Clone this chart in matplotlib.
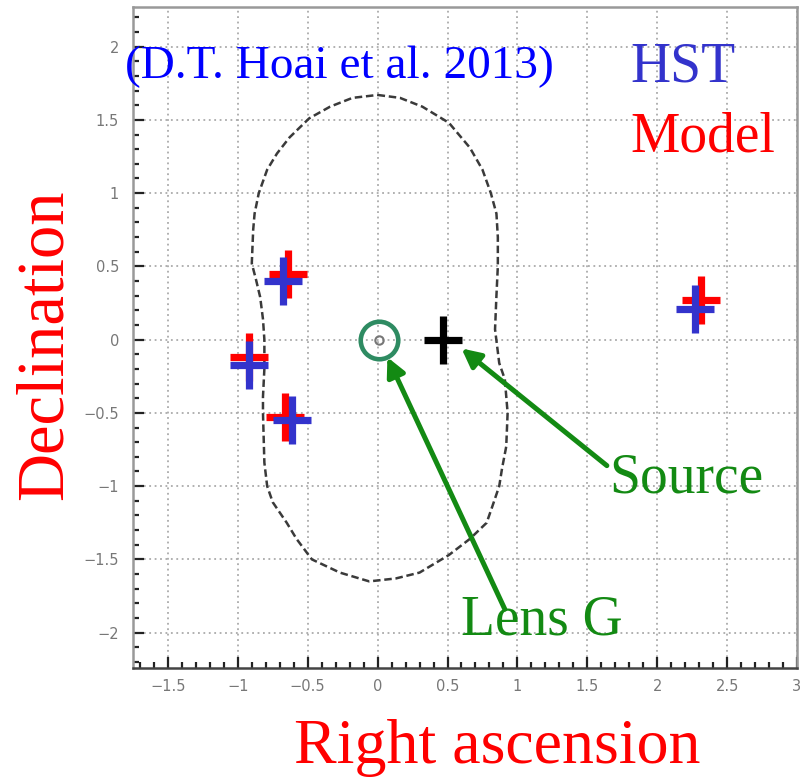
import numpy as np
import matplotlib
matplotlib.use("Agg")
import matplotlib.pyplot as plt
from matplotlib.ticker import MultipleLocator, FixedLocator

# critical curve (RA, Dec), clockwise from the top
crit_x = [0.0, 0.16, 0.32, 0.51, 0.66, 0.75, 0.81, 0.85, 0.86, 0.86, 0.85, 0.84,
          0.87, 0.91, 0.93, 0.92, 0.89, 0.87, 0.82, 0.78, 0.66, 0.51, 0.30, 0.13,
          -0.06, -0.27, -0.47, -0.58, -0.65, -0.75, -0.79, -0.81, -0.82, -0.82,
          -0.81, -0.81, -0.82, -0.84, -0.87, -0.90, -0.89, -0.88, -0.85, -0.79,
          -0.72, -0.63, -0.49, -0.34, -0.18, 0.0]
crit_y = [1.67, 1.65, 1.59, 1.48, 1.31, 1.16, 1.00, 0.86, 0.70, 0.50, 0.30, 0.07,
          -0.16, -0.27, -0.50, -0.73, -0.88, -1.00, -1.14, -1.25, -1.36, -1.47, -1.59, -1.63,
          -1.65, -1.59, -1.50, -1.36, -1.25, -1.11, -1.00, -0.84, -0.50, -0.39,
          -0.20, 0.00, 0.14, 0.29, 0.41, 0.52, 0.75, 0.86, 1.00, 1.16,
          1.27, 1.38, 1.51, 1.59, 1.65, 1.67]

# image positions
hst_x = [-0.68, -0.92, -0.61, 2.27]
hst_y = [0.40, -0.17, -0.55, 0.21]
model_x = [-0.64, -0.92, -0.66, 2.31]
model_y = [0.45, -0.12, -0.53, 0.27]
source_xy = (0.47, 0.0)
lens_xy = (0.01, 0.0)

x_ticks = [-1.5, -1, -0.5, 0, 0.5, 1, 1.5, 2, 2.5, 3]
x_labels = ["\u22121.5", "\u22121", "\u22120.5", "0", "0.5", "1", "1.5", "2", "2.5", "3"]
y_ticks = [-2, -1.5, -1, -0.5, 0, 0.5, 1, 1.5, 2]
y_labels = ["\u22122", "\u22121.5", "\u22121", "\u22120.5", "0", "0.5", "1", "1.5", "2"]

red = "#ff0000"
blue = "#3333cc"
green = "#138a13"
serif = ["Liberation Serif", "DejaVu Serif"]

fig = plt.figure(figsize=(8.01, 7.82), dpi=100)
ax = fig.add_axes([0.166, 0.146, 0.829, 0.845])
ax.set_xlim(-1.75, 3.0)
ax.set_ylim(-2.24, 2.27)

ax.xaxis.set_major_locator(FixedLocator(x_ticks))
ax.yaxis.set_major_locator(FixedLocator(y_ticks))
ax.set_xticklabels(x_labels)
ax.set_yticklabels(y_labels)
ax.xaxis.set_minor_locator(MultipleLocator(0.1))
ax.yaxis.set_minor_locator(MultipleLocator(0.1))
ax.tick_params(which="both", direction="in", colors="#222222", labelcolor="#777777",
               labelsize=10.5, width=1.6)
ax.tick_params(which="major", length=8)
ax.tick_params(which="minor", length=4)
ax.tick_params(axis="x", pad=8)
ax.tick_params(axis="y", pad=10)
ax.grid(True, which="major", color="#aaaaaa", linestyle=(0, (1, 2)), linewidth=1.3)
for s in ax.spines.values():
    s.set_color("#999999")
    s.set_linewidth(1.8)
ax.spines["bottom"].set_color("#444444")

# critical curve
ax.plot(crit_x, crit_y, color="#3a3a3a", lw=1.8, linestyle=(0, (3, 1.5)), zorder=2)

# model (red) and HST (blue) images
for xs, ys, c in [(model_x, model_y, red), (hst_x, hst_y, blue)]:
    ax.plot(xs, ys, linestyle="none", marker="|", markersize=34, mew=5.2, color=c, zorder=4)
    ax.plot(xs, ys, linestyle="none", marker="_", markersize=28, mew=5.2, color=c, zorder=4)

# source
ax.plot(*source_xy, marker="|", markersize=34, mew=5.2, color="black", zorder=5)
ax.plot(*source_xy, marker="_", markersize=28, mew=5.2, color="black", zorder=5)

# lens
ax.plot(*lens_xy, marker="o", markersize=6, mfc="none", mec="#777777", mew=1.5, zorder=5)
ax.plot(*lens_xy, marker="o", markersize=27, mfc="none", mec="#2e8b62", mew=3.3, zorder=5)

arrow = dict(arrowstyle="-|>", color=green, lw=3.6, mutation_scale=28, shrinkA=0, shrinkB=0)
ax.annotate("", xy=(0.07, -0.12), xytext=(0.91, -1.84), arrowprops=arrow, zorder=6)
ax.annotate("", xy=(0.60, -0.06), xytext=(1.64, -0.86), arrowprops=arrow, zorder=6)
ax.text(1.66, -0.95, "Source", color=green, fontsize=40, family=serif, ha="left", va="center")
ax.text(0.60, -1.92, "Lens G", color=green, fontsize=40, family=serif, ha="left", va="center")

fig.text(125 / 801, 1 - 67 / 782, "(D.T. Hoai et al. 2013)", color="#0000ff", fontsize=34,
         family=serif, ha="left", va="center")
fig.text(630 / 801, 1 - 68 / 782, "HST", color=blue, fontsize=40, family=serif,
         ha="left", va="center")
fig.text(630 / 801, 1 - 137 / 782, "Model", color=red, fontsize=40, family=serif,
         ha="left", va="center")
fig.text(45 / 801, 1 - 345 / 782, "Declination", color=red, fontsize=48, family=serif,
         rotation=90, ha="center", va="center")
fig.text(497 / 801, 1 - 748 / 782, "Right ascension", color=red, fontsize=46, family=serif,
         ha="center", va="center")

fig.savefig("out.png", dpi=100)
